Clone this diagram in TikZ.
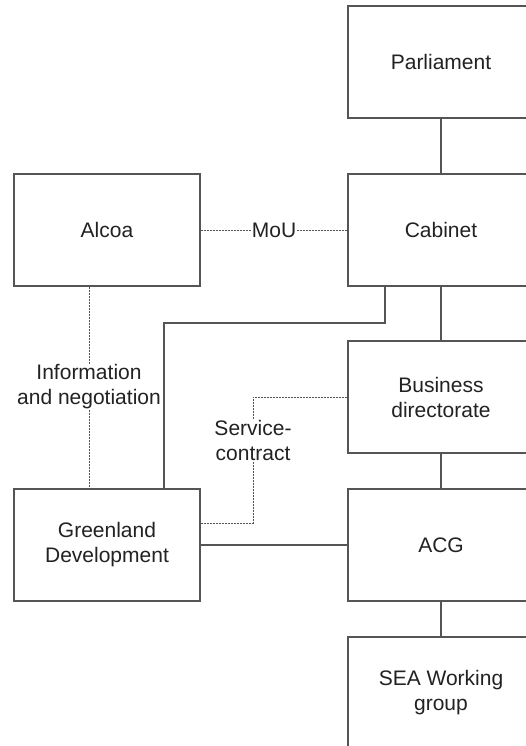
\documentclass[tikz,border=0pt]{standalone}
\usepackage{fontspec}
\setmainfont{Liberation Sans}
\begin{document}
\begin{tikzpicture}[x=1pt,y=-1pt,
  box/.style={draw=linegray, line width=1.1pt, minimum width=186pt, minimum height=112pt, inner sep=0pt, align=center, text=textgray, font=\fontsize{21}{25}\selectfont},
  lbl/.style={fill=white, inner sep=1pt, align=center, text=textgray, font=\fontsize{21}{25}\selectfont},
  solidln/.style={draw=linegray, line width=1.1pt},
  dashln/.style={draw=linegray, line width=1pt, dash pattern=on 2pt off 1pt}]
\definecolor{linegray}{HTML}{555555}
\definecolor{textgray}{HTML}{222222}
\clip (0,0) rectangle (526,746);
\fill[white] (0,0) rectangle (526,746);
% boxes
\node[box] (par) at (441,62) {Parliament};
\node[box] (cab) at (441,230) {Cabinet};
\node[box] (alc) at (107,230) {Alcoa};
\node[box] (bus) at (441,397) {Business\\directorate};
\node[box] (gre) at (107,545) {Greenland\\Development};
\node[box] (acg) at (441,545) {ACG};
\node[box] (sea) at (441,693) {SEA Working\\group};
% solid hierarchy
\draw[solidln] (par.south) -- (cab.north);
\draw[solidln] (cab.south) -- (bus.north);
\draw[solidln] (bus.south) -- (acg.north);
\draw[solidln] (acg.south) -- (sea.north);
\draw[solidln] (gre.east) -- (acg.west);
\coordinate (c1) at ([xshift=-56pt]cab.south);
\coordinate (g1) at ([xshift=57pt]gre.north);
\draw[solidln] (c1) -- (c1 |- 0,323) -- (g1 |- 0,323) -- (g1);
% dashed relations
\draw[dashln] (alc.east) -- (cab.west);
\node[lbl] (mou) at (274,230) {MoU};
\coordinate (a1) at ([xshift=-18pt]alc.south);
\coordinate (g2) at ([xshift=-18pt]gre.north);
\draw[dashln] (a1) -- (g2);
\node[lbl] (info) at (89,387) {Information\\and negotiation};
\coordinate (g3) at ([yshift=22pt]gre.east);
\draw[dashln] (bus.west) -- (253,397) -- (253,523) -- (g3);
\node[lbl] (svc) at (253,440) {Service-\\contract};
\end{tikzpicture}
\end{document}
